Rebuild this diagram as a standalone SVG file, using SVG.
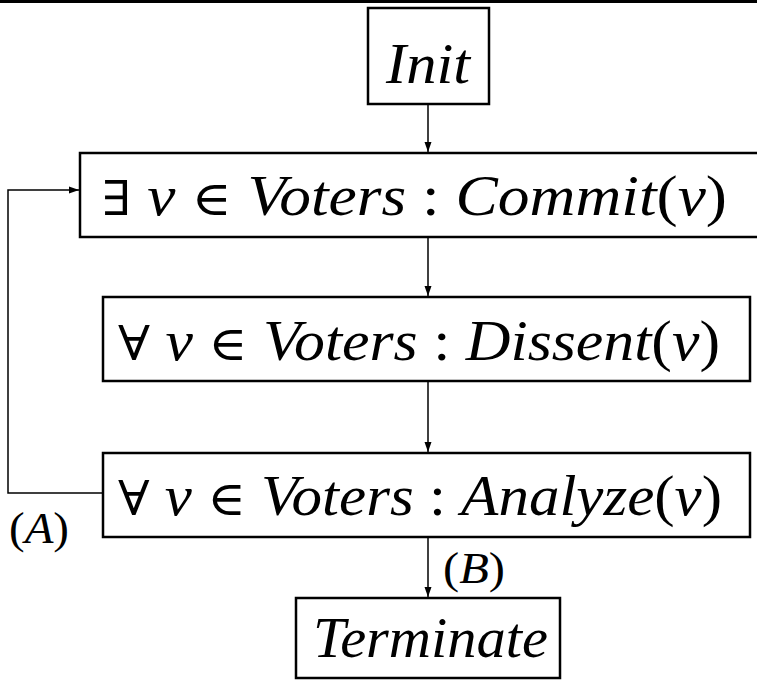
<svg xmlns="http://www.w3.org/2000/svg" width="757" height="682" viewBox="0 0 757 682">
  <style>
    .box { fill: #fff; stroke: #000; stroke-width: 2.5; }
    .wire { fill: none; stroke: #000; stroke-width: 1.5; }
    text { font-family: "Liberation Serif", "DejaVu Serif", serif; fill: #000; }
    .t { font-size: 56px; }
    .lbl { font-size: 45px; }
    .i { font-style: italic; }
    .u { font-style: normal; }
    .sym { font-family: "DejaVu Serif", "Liberation Serif", serif; font-style: normal; font-size: 48px; }
  </style>
  <defs>
    <marker id="arr" viewBox="0 0 10 10" refX="10" refY="5" markerWidth="10" markerHeight="10" markerUnits="userSpaceOnUse" orient="auto">
      <path d="M0,1.5 L10,5 L0,8.5 Z" fill="#000"/>
    </marker>
  </defs>

  <!-- rule across the top -->
  <line x1="0" y1="1.5" x2="757" y2="1.5" stroke="#000" stroke-width="3"/>

  <g id="connectors">
    <line class="wire" x1="428" y1="104" x2="428" y2="152" marker-end="url(#arr)"/>
    <line class="wire" x1="428" y1="237" x2="428" y2="296" marker-end="url(#arr)"/>
    <line class="wire" x1="428" y1="381" x2="428" y2="452" marker-end="url(#arr)"/>
    <line class="wire" x1="428" y1="537" x2="428" y2="597" marker-end="url(#arr)"/>
    <polyline class="wire" points="103,493 8,493 8,190 79,190" marker-end="url(#arr)"/>
    <text class="lbl u" x="9" y="543" textLength="60" lengthAdjust="spacingAndGlyphs">(<tspan class="i">A</tspan>)</text>
    <text class="lbl u" x="443" y="583" textLength="62" lengthAdjust="spacingAndGlyphs">(<tspan class="i">B</tspan>)</text>
  </g>

  <g id="init">
    <rect class="box" x="368" y="8" width="121" height="96"/>
    <text class="t i" x="386" y="83" textLength="84" lengthAdjust="spacingAndGlyphs">Init</text>
  </g>

  <g id="commit">
    <rect class="box" x="80" y="153" width="690" height="84"/>
    <text class="t" x="102" y="215" textLength="625" lengthAdjust="spacingAndGlyphs"><tspan class="sym">∃</tspan><tspan class="u"> </tspan><tspan class="i">v </tspan><tspan class="sym">∈</tspan><tspan class="u"> </tspan><tspan class="i">Voters </tspan><tspan class="u">: </tspan><tspan class="i">Commit</tspan><tspan class="u">(</tspan><tspan class="i">v</tspan><tspan class="u">)</tspan></text>
  </g>

  <g id="dissent">
    <rect class="box" x="103" y="297" width="647" height="84"/>
    <text class="t" x="118" y="360" textLength="602" lengthAdjust="spacingAndGlyphs"><tspan class="sym">∀</tspan><tspan class="u"> </tspan><tspan class="i">v </tspan><tspan class="sym">∈</tspan><tspan class="u"> </tspan><tspan class="i">Voters </tspan><tspan class="u">: </tspan><tspan class="i">Dissent</tspan><tspan class="u">(</tspan><tspan class="i">v</tspan><tspan class="u">)</tspan></text>
  </g>

  <g id="analyze">
    <rect class="box" x="103" y="453" width="647" height="84"/>
    <text class="t" x="118" y="515" textLength="604" lengthAdjust="spacingAndGlyphs"><tspan class="sym">∀</tspan><tspan class="u"> </tspan><tspan class="i">v </tspan><tspan class="sym">∈</tspan><tspan class="u"> </tspan><tspan class="i">Voters </tspan><tspan class="u">: </tspan><tspan class="i">Analyze</tspan><tspan class="u">(</tspan><tspan class="i">v</tspan><tspan class="u">)</tspan></text>
  </g>

  <g id="terminate">
    <rect class="box" x="296" y="598" width="264" height="80"/>
    <text class="t i" x="313" y="657" textLength="235" lengthAdjust="spacingAndGlyphs">Terminate</text>
  </g>
</svg>
